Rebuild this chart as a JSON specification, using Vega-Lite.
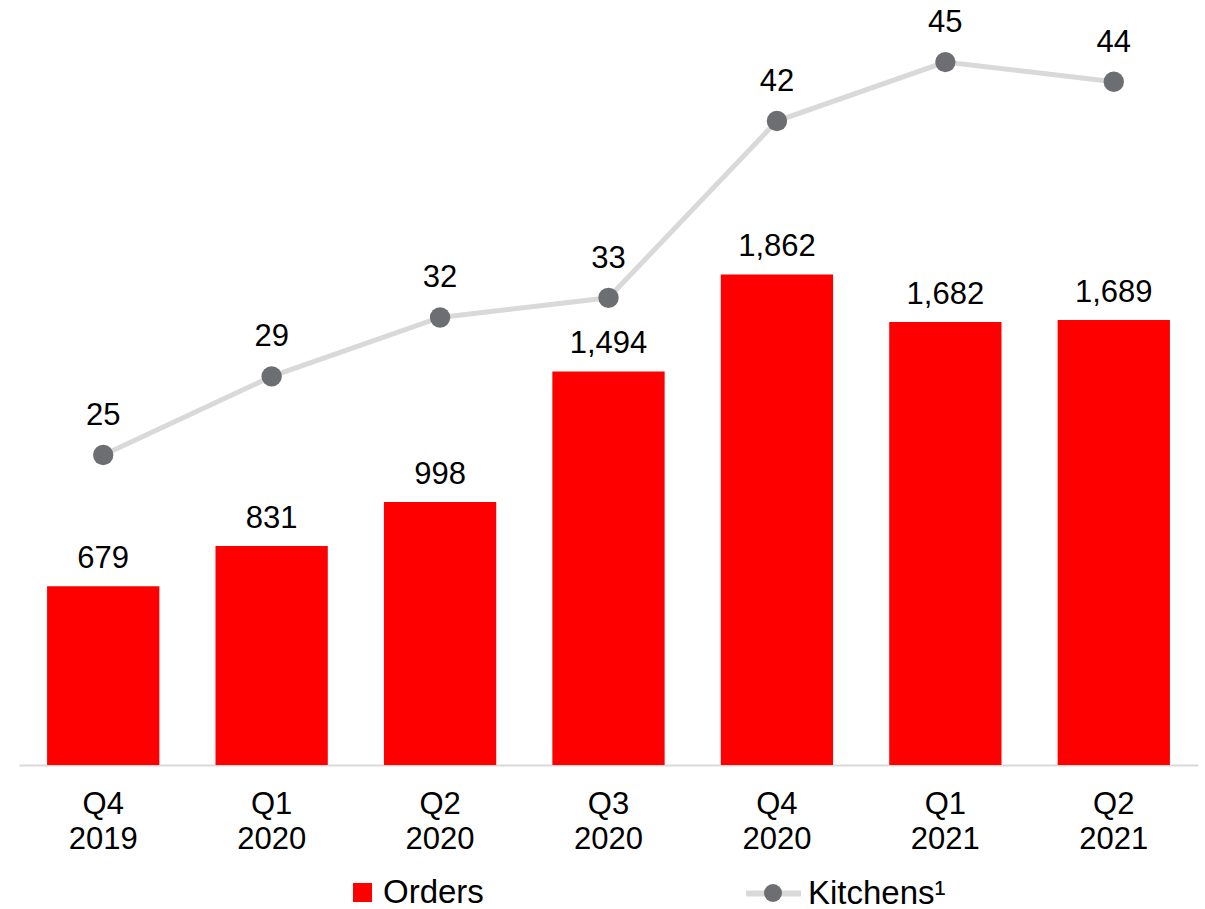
{
  "$schema": "https://vega.github.io/schema/vega-lite/v6.json",
  "width": 1179,
  "height": 765,
  "autosize": {"type": "none"},
  "padding": {"left": 19, "top": 0, "right": 7, "bottom": 144},
  "background": "#ffffff",
  "config": {"view": {"stroke": null}, "font": "Liberation Sans"},
  "data": {
    "values": [
      {"q": "Q4 2019", "orders": 679, "kitchens": 25},
      {"q": "Q1 2020", "orders": 831, "kitchens": 29},
      {"q": "Q2 2020", "orders": 998, "kitchens": 32},
      {"q": "Q3 2020", "orders": 1494, "kitchens": 33},
      {"q": "Q4 2020", "orders": 1862, "kitchens": 42},
      {"q": "Q1 2021", "orders": 1682, "kitchens": 45},
      {"q": "Q2 2021", "orders": 1689, "kitchens": 44}
    ]
  },
  "encoding": {
    "x": {
      "field": "q",
      "type": "nominal",
      "sort": null,
      "scale": {"paddingInner": 0.3333, "paddingOuter": 0.1667},
      "axis": {
        "title": null,
        "labelExpr": "split(datum.value, ' ')",
        "labelFontSize": 31,
        "labelFont": "Liberation Sans",
        "labelColor": "#000000",
        "labelLineHeight": 35,
        "labelPadding": 24,
        "labelAngle": 0,
        "labelBaseline": "top",
        "ticks": false,
        "tickSize": 0,
        "domainColor": "#d9d9d9",
        "domainWidth": 2
      }
    }
  },
  "layer": [
    {
      "layer": [
        {
          "mark": {"type": "bar"},
          "encoding": {
            "y": {"field": "orders", "type": "quantitative", "scale": {"domain": [0, 2904], "nice": false}, "axis": null},
            "fill": {
              "datum": "Orders",
              "scale": {"range": ["#ff0000"]},
              "legend": {
                "orient": "none",
                "legendX": 327,
                "legendY": 876,
                "title": null,
                "symbolType": "square",
                "symbolSize": 361,
                "symbolStrokeWidth": 0,
                "labelFontSize": 33,
                "labelFont": "Liberation Sans",
                "labelColor": "#000000",
                "labelOffset": 4,
                "padding": 0
              }
            }
          }
        },
        {
          "mark": {"type": "text", "dy": -18, "baseline": "alphabetic", "fontSize": 31, "font": "Liberation Sans", "color": "#000000"},
          "encoding": {
            "y": {"field": "orders", "type": "quantitative"},
            "text": {"field": "orders", "type": "quantitative", "format": ","}
          }
        }
      ]
    },
    {
      "layer": [
        {
          "mark": {"type": "line", "strokeWidth": 5},
          "encoding": {
            "y": {"field": "kitchens", "type": "quantitative", "scale": {"domain": [9.22, 48.16], "nice": false, "zero": false}, "axis": null},
            "stroke": {
              "datum": "Kitchens¹",
              "scale": {"range": ["#d9d9d9"]},
              "legend": {
                "orient": "none",
                "legendX": 724,
                "legendY": 863,
                "title": null,
                "symbolType": "stroke",
                "symbolSize": 3025,
                "symbolStrokeWidth": 6,
                "symbolStrokeColor": "#d9d9d9",
                "labelFontSize": 33,
                "labelFont": "Liberation Sans",
                "labelColor": "#000000",
                "labelOffset": 4,
                "padding": 0
              }
            }
          }
        },
        {
          "mark": {"type": "point", "filled": true, "opacity": 1, "size": 415, "color": "#6d6e71"},
          "encoding": {
            "y": {"field": "kitchens", "type": "quantitative"},
            "shape": {
              "datum": "K",
              "scale": {"range": ["circle"]},
              "legend": {
                "orient": "none",
                "legendX": 745,
                "legendY": 884,
                "title": null,
                "symbolSize": 324,
                "symbolFillColor": "#6d6e71",
                "symbolStrokeColor": "#6d6e71",
                "symbolStrokeWidth": 0,
                "symbolOpacity": 1,
                "labelFontSize": 1,
                "labelExpr": "''",
                "labelOpacity": 0,
                "padding": 0
              }
            }
          }
        },
        {
          "mark": {"type": "text", "dy": -30, "baseline": "alphabetic", "fontSize": 31, "font": "Liberation Sans", "color": "#000000"},
          "encoding": {
            "y": {"field": "kitchens", "type": "quantitative"},
            "text": {"field": "kitchens", "type": "quantitative"}
          }
        }
      ]
    }
  ],
  "resolve": {"scale": {"y": "independent"}}
}
